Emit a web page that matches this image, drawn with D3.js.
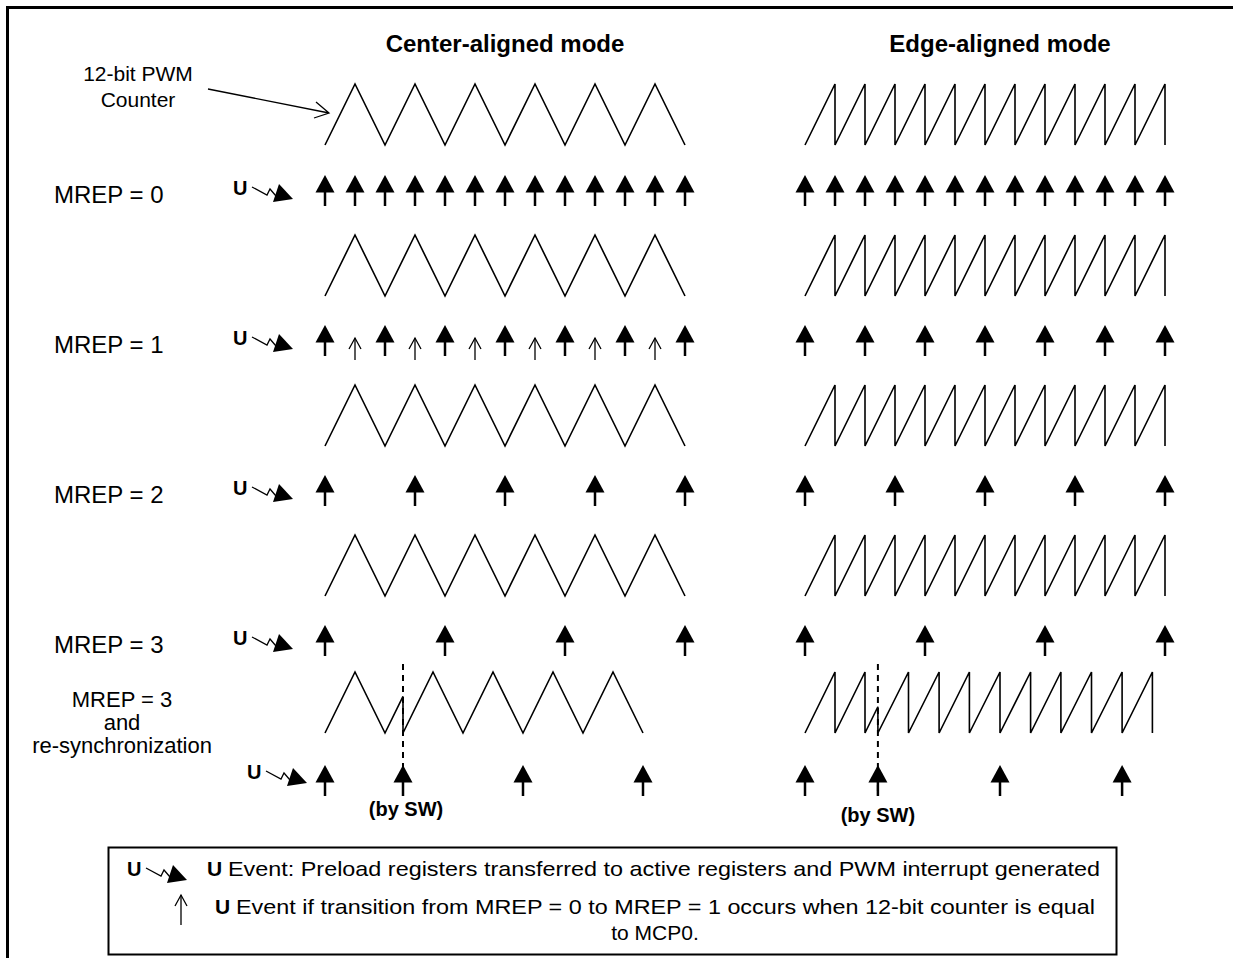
<!DOCTYPE html>
<html>
<head>
<meta charset="utf-8">
<script src="https://cdn.jsdelivr.net/npm/d3@7"></script>
<style>
  body { margin: 0; background: #fff; }
  text { font-family: "Liberation Sans", Arial, Helvetica, sans-serif; fill: #000; }
</style>
</head>
<body>
<div id="chart"></div>
<script>
// column titles and row labels
var modeTitles = ["Center-aligned mode", "Edge-aligned mode"];
var rowLabels = ["MREP = 0", "MREP = 1", "MREP = 2", "MREP = 3"];
var resyncLabel = ["MREP = 3", "and", "re-synchronization"];
var counterLabel = ["12-bit PWM", "Counter"];
var legendLines = [
  "Event: Preload registers transferred to active registers and PWM interrupt generated",
  "Event if transition from MREP = 0 to MREP = 1 occurs when 12-bit counter is equal",
  "to MCP0."
];

// counter waveforms, [time in counter half-periods, level 0..1]
var centerWave = [[0,0],[1,1],[2,0],[3,1],[4,0],[5,1],[6,0],[7,1],[8,0],[9,1],[10,0],[11,1],[12,0]];
var edgeWave = [[0,0],[1,1],[1,0],[2,1],[2,0],[3,1],[3,0],[4,1],[4,0],[5,1],[5,0],[6,1],[6,0],
                [7,1],[7,0],[8,1],[8,0],[9,1],[9,0],[10,1],[10,0],[11,1],[11,0],[12,1],[12,0]];
var centerResyncWave = [[0,0],[1,1],[2,0],[2.6,0.6],[2.6,0],[3.6,1],[4.6,0],[5.6,1],[6.6,0],
                        [7.6,1],[8.6,0],[9.6,1],[10.6,0]];
var edgeResyncWave = [[0,0],[1,1],[1,0],[2,1],[2,0],[2.43,0.43],[2.43,0],[3.45,1],[3.45,0],
                      [4.47,1],[4.47,0],[5.48,1],[5.48,0],[6.5,1],[6.5,0],[7.52,1],[7.52,0],
                      [8.53,1],[8.53,0],[9.55,1],[9.55,0],[10.57,1],[10.57,0],[11.58,1],[11.58,0]];

// U events (filled arrows) per row
var centerEvents = [
  [0,1,2,3,4,5,6,7,8,9,10,11,12],
  [0,2,4,6,8,10,12],
  [0,3,6,9,12],
  [0,4,8,12],
  [0,2.6,6.6,10.6]
];
var edgeEvents = [
  [0,1,2,3,4,5,6,7,8,9,10,11,12],
  [0,2,4,6,8,10,12],
  [0,3,6,9,12],
  [0,4,8,12],
  [0,2.43,6.5,10.57]
];
// extra U events at MCP0 (thin arrows), center-aligned MREP = 1
var centerMcpEvents = [1,3,5,7,9,11];
// software re-synchronization instants
var resyncTimes = [2.6, 2.43];

var width = 1233, height = 958;
var svg = d3.select("#chart").append("svg")
  .attr("width", width).attr("height", height);

// frame (open on the right and bottom, as cropped in the original)
svg.append("path")
  .attr("d", "M7.5,958 V7.5 H1240")
  .attr("fill", "none").attr("stroke", "#000").attr("stroke-width", 3);

var xCenter = d3.scaleLinear().domain([0, 12]).range([325, 685]);
var xEdge = d3.scaleLinear().domain([0, 12]).range([805, 1165]);
// vertical layout of the five rows
var waveTop = d3.scaleLinear().domain([0, 1, 2, 3, 4]).range([84, 235, 385, 535, 672]);
var eventTop = d3.scaleLinear().domain([0, 1, 2, 3, 4]).range([175, 325, 475, 625, 765]);
var waveHeight = 61;

function drawWave(data, xs, row) {
  var y = d3.scaleLinear().domain([0, 1]).range([waveTop(row) + waveHeight, waveTop(row)]);
  var line = d3.line().x(function(d) { return xs(d[0]); }).y(function(d) { return y(d[1]); });
  svg.append("path").attr("d", line(data))
    .attr("fill", "none").attr("stroke", "#000").attr("stroke-width", 1.6)
    .attr("stroke-linejoin", "miter");
}

function drawEvent(x, y) {
  var g = svg.append("g").attr("transform", "translate(" + x + "," + y + ")");
  g.append("path").attr("d", "M0,0 L9.5,17.5 L-9.5,17.5 Z").attr("fill", "#000");
  g.append("line").attr("x1", 0).attr("x2", 0).attr("y1", 16).attr("y2", 31)
    .attr("stroke", "#000").attr("stroke-width", 2.5);
}

function drawThinArrow(x, y, len) {
  var g = svg.append("g").attr("transform", "translate(" + x + "," + y + ")")
    .attr("fill", "none").attr("stroke", "#000").attr("stroke-width", 1.3);
  g.append("line").attr("x1", 0).attr("x2", 0).attr("y1", 0).attr("y2", len);
  g.append("path").attr("d", "M-6,11 L0,0 L6,11");
}

function drawUSymbol(x, y) {
  // x,y = left edge / baseline of the bold "U"
  var g = svg.append("g").attr("transform", "translate(" + x + "," + y + ")");
  g.append("text").attr("x", 0).attr("y", 0).attr("font-size", 20).attr("font-weight", "bold").text("U");
  g.append("path").attr("d", "M19,-8 L34,0 L37,-6 L43,1")
    .attr("fill", "none").attr("stroke", "#000").attr("stroke-width", 1.3);
  g.append("path").attr("d", "M60,4 L40,7 L46,-11 Z").attr("fill", "#000");
}

// titles
svg.selectAll("text.title").data(modeTitles).enter().append("text")
  .attr("class", "title")
  .attr("x", function(d, i) { return i === 0 ? 505 : 1000; })
  .attr("y", 52)
  .attr("text-anchor", "middle")
  .attr("font-size", 24).attr("font-weight", "bold")
  .text(function(d) { return d; });

// counter label with pointer
svg.selectAll("text.counter").data(counterLabel).enter().append("text")
  .attr("class", "counter")
  .attr("x", 138).attr("y", function(d, i) { return 81 + i * 26; })
  .attr("text-anchor", "middle").attr("font-size", 21)
  .text(function(d) { return d; });
svg.append("path").attr("d", "M208,89 L329,113 M316,102 L329,113 L314,118")
  .attr("fill", "none").attr("stroke", "#000").attr("stroke-width", 1.3);

// row labels
svg.selectAll("text.row").data(rowLabels).enter().append("text")
  .attr("class", "row")
  .attr("x", 54).attr("y", function(d, i) { return eventTop(i) + 28; })
  .attr("font-size", 24)
  .text(function(d) { return d; });

svg.selectAll("text.resync").data(resyncLabel).enter().append("text")
  .attr("class", "resync")
  .attr("x", 122).attr("y", function(d, i) { return 707 + i * 23; })
  .attr("text-anchor", "middle").attr("font-size", 22)
  .text(function(d) { return d; });

// waveforms
for (var r = 0; r < 4; r++) {
  drawWave(centerWave, xCenter, r);
  drawWave(edgeWave, xEdge, r);
}
drawWave(centerResyncWave, xCenter, 4);
drawWave(edgeResyncWave, xEdge, 4);

// events
centerEvents.forEach(function(list, row) {
  list.forEach(function(t) { drawEvent(xCenter(t), eventTop(row)); });
  if (row === 4) drawUSymbol(247, eventTop(row) + 14);
  else drawUSymbol(233, eventTop(row) + 20);
});
edgeEvents.forEach(function(list, row) {
  list.forEach(function(t) { drawEvent(xEdge(t), eventTop(row)); });
});
centerMcpEvents.forEach(function(t) { drawThinArrow(xCenter(t), eventTop(1) + 13, 22); });

// re-synchronization marks
[xCenter(resyncTimes[0]), xEdge(resyncTimes[1])].forEach(function(x, i) {
  svg.append("line").attr("x1", x).attr("x2", x)
    .attr("y1", waveTop(4) - 8).attr("y2", eventTop(4) + 30)
    .attr("stroke", "#000").attr("stroke-width", 2).attr("stroke-dasharray", "6,5");
  svg.append("text").attr("x", x + (i === 0 ? 3 : 0)).attr("y", eventTop(4) + (i === 0 ? 51 : 57))
    .attr("text-anchor", "middle").attr("font-size", 20).attr("font-weight", "bold")
    .text("(by SW)");
});

// legend
svg.append("rect").attr("x", 108.5).attr("y", 847.5).attr("width", 1008).attr("height", 107)
  .attr("fill", "none").attr("stroke", "#000").attr("stroke-width", 2);
drawUSymbol(127, 876);
svg.append("text").attr("x", 207).attr("y", 876).attr("font-size", 21).attr("font-weight", "bold").text("U");
svg.append("text").attr("x", 228).attr("y", 876).attr("font-size", 21)
  .attr("textLength", 872).attr("lengthAdjust", "spacingAndGlyphs").text(legendLines[0]);
drawThinArrow(181, 895, 30);
svg.append("text").attr("x", 215).attr("y", 914).attr("font-size", 21).attr("font-weight", "bold").text("U");
svg.append("text").attr("x", 236).attr("y", 914).attr("font-size", 21)
  .attr("textLength", 859).attr("lengthAdjust", "spacingAndGlyphs").text(legendLines[1]);
svg.append("text").attr("x", 655).attr("y", 940).attr("font-size", 21)
  .attr("text-anchor", "middle").text(legendLines[2]);
</script>
</body>
</html>
